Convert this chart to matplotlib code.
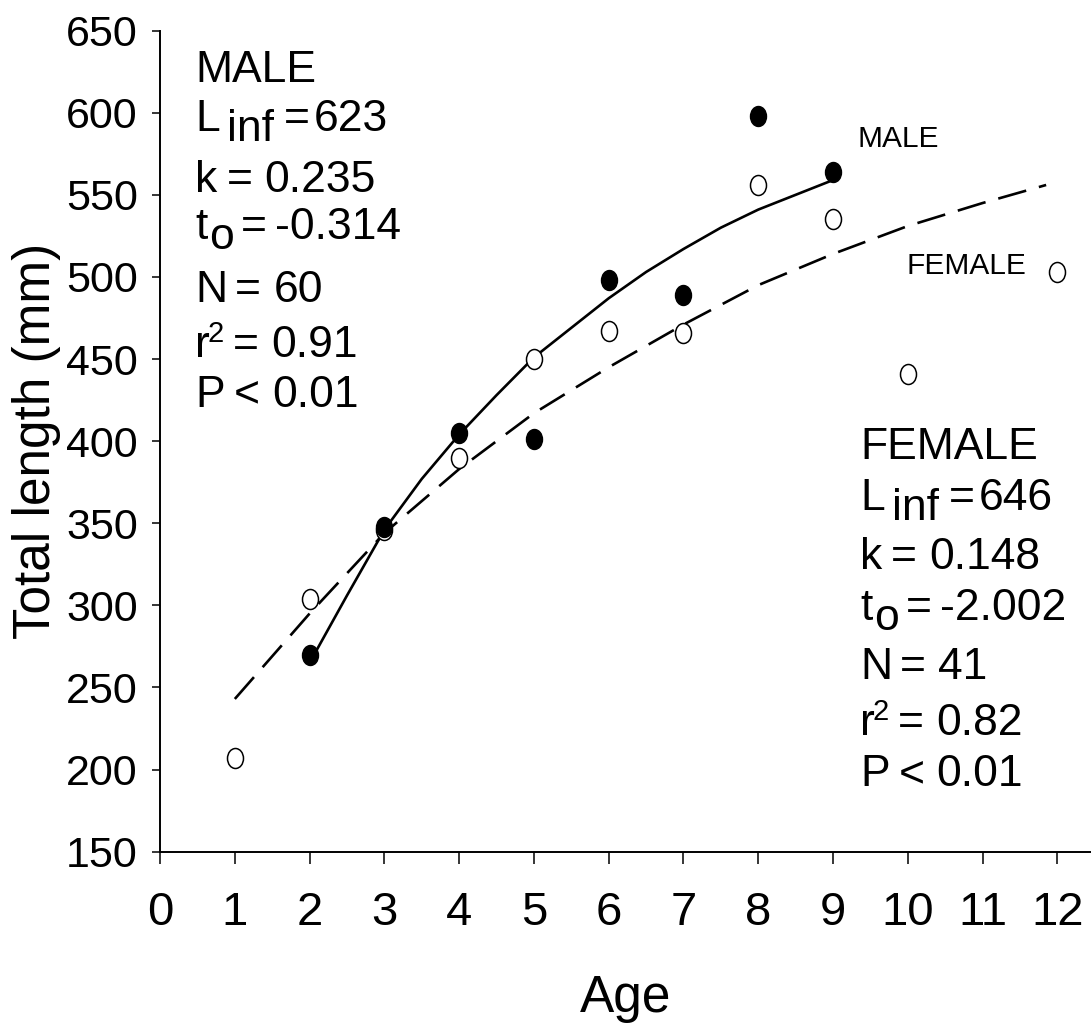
import numpy as np
import matplotlib.pyplot as plt
from matplotlib.path import Path
from matplotlib.transforms import Affine2D

# observed mean lengths
age_m = [2, 3, 4, 5, 6, 7, 8, 9]
len_m = [270, 348, 405, 401, 498, 489, 598, 564]
age_f = [1, 2, 3, 4, 5, 6, 7, 8, 9, 10, 12]
len_f = [207, 304, 346, 390, 450, 467, 466, 556, 535, 441, 503]

# fitted growth curves
fit_age_m = [2, 2.5, 3, 3.5, 4, 4.5, 5, 5.5, 6, 6.5, 7, 7.5, 8, 8.5, 9]
fit_len_m = [265, 306, 346, 377, 404, 428, 451, 469, 487, 503, 517, 530, 541, 550, 559]
fit_age_f = [1, 2, 3, 4, 5, 6, 7, 8, 9, 10, 11, 11.85]
fit_len_f = [243, 295, 344, 383, 417, 445, 471, 495, 514, 531, 545, 556]

male_stats = ['623', '0.235', '-0.314', '60', '0.91', '0.01']
female_stats = ['646', '0.148', '-2.002', '41', '0.82', '0.01']

plt.rcParams['font.family'] = 'Liberation Sans'

fig = plt.figure(figsize=(10.91, 10.24), dpi=100)
ax = fig.add_axes([0.1467, 0.1683, 0.8533, 0.8018])

ax.plot(fit_age_m, fit_len_m, color='black', lw=1.9, zorder=2)
ax.plot(fit_age_f, fit_len_f, color='black', lw=1.9, dashes=(11, 5), zorder=2)

oval = Path.unit_circle().transformed(Affine2D().scale(0.8, 1.0))
ax.plot(age_f, len_f, ls='none', marker=oval, ms=14.4, mfc='white', mec='black', mew=1.1, zorder=3)
ax.plot(age_m, len_m, ls='none', marker=oval, ms=14.4, mfc='black', mec='black', mew=1.0, zorder=4)

ax.set_xlim(0, 12.45)
ax.set_ylim(150, 650)
ax.set_xticks(range(13))
ax.set_yticks(range(150, 651, 50))
ax.spines[['top', 'right']].set_visible(False)
ax.spines['left'].set_linewidth(1.4)
ax.spines['bottom'].set_linewidth(1.4)
ax.tick_params(axis='x', direction='out', length=8.6, width=1.1, pad=20, labelsize=34)
ax.tick_params(axis='y', direction='out', length=6, width=1.1, pad=10, labelsize=31)

ax.set_xlabel('Age', fontsize=37)
ax.xaxis.set_label_coords(0.5, -0.149)
ax.set_ylabel('Total length (mm)', fontsize=37)
ax.yaxis.set_label_coords(-0.106, 0.5)

ax.text(9.33, 579, 'MALE', fontsize=21.5, va='baseline')
ax.text(9.98, 502, 'FEMALE', fontsize=21.5, va='baseline')


def put_line(x, y, parts):
    # parts: (text, fontsize, dx px, dy px), chained left to right
    prev = None
    for txt, size, dx, dy in parts:
        kw = dict(xytext=(dx, dy), textcoords='offset pixels', fontsize=size,
                  va='baseline', ha='left')
        if prev is None:
            t = ax.annotate(txt, xy=(x, y), xycoords='data', **kw)
        else:
            t = ax.annotate(txt, xy=(1, y), xycoords=(prev, 'data'), **kw)
        prev = t


def stats_block(x, title, st, ys):
    fs = 32
    put_line(x, ys[0], [(title, fs, 0, 0)])
    put_line(x, ys[1], [('L', fs, 0, 0), ('inf', fs, 7, -10), ('=', fs, 10, 0), (st[0], fs, 4, 0)])
    put_line(x, ys[2], [('k', fs, 0, 0), ('=', fs, 9, 0), (st[1], fs, 12, 0)])
    put_line(x, ys[3], [('t', fs, 0, 0), ('o', fs, 2, -10), ('=', fs, 7, 0), (st[2], fs, 8, 0)])
    put_line(x, ys[4], [('N', fs, 0, 0), ('=', fs, 8, 0), (st[3], fs, 12, 0)])
    put_line(x, ys[5], [('r', fs, 0, 0), ('2', 21, -2, 15), ('=', fs, 9, 0), (st[4], fs, 12, 0)])
    put_line(x, ys[6], [('P', fs, 0, 0), ('<', fs, 9, 0), (st[5], fs, 12, 0)])


stats_block(0.47, 'MALE', male_stats, [619, 589, 552, 523, 485, 451, 421])
stats_block(9.36, 'FEMALE', female_stats, [389, 358, 322, 291, 255, 221, 190])

fig.savefig('out.png', dpi=100)
